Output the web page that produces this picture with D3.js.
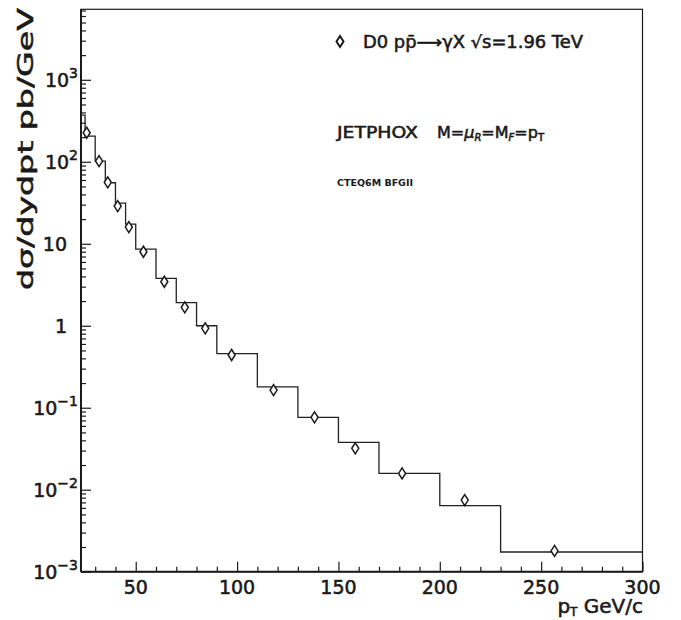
<!DOCTYPE html>
<html>
<head>
<meta charset="utf-8">
<script src="https://cdn.jsdelivr.net/npm/d3@7"></script>
<style>
  html, body { margin: 0; padding: 0; background: #fff; }
  svg { display: block; }
  text { font-family: "DejaVu Sans", sans-serif; fill: #1a1a1a; }
  .heavy { stroke: #1a1a1a; stroke-width: 0.55; }
</style>
</head>
<body>
<svg id="chart" width="681" height="620"></svg>
<script>
// ---- data ----
// JETPHOX theory histogram: bin edges and values (pb/GeV)
const binEdges = [23, 25, 30, 35, 40, 45, 50, 60, 70, 80, 90, 110, 130, 150, 170, 200, 230, 300];
const binValues = [370, 206, 102, 55.5, 31.3, 17.4, 8.6, 3.78, 1.91, 1.0, 0.456, 0.180, 0.0764, 0.0379, 0.0158, 0.00638, 0.00174];
// D0 data points
const dataPt = [25.8, 31.9, 36.2, 41.1, 46.6, 53.8, 64.1, 74.2, 84.3, 97.3, 118.0, 138.2, 158.3, 181.4, 212.3, 256.6];
const dataXs = [226, 102, 56.1, 28.8, 16.0, 7.99, 3.44, 1.68, 0.929, 0.440, 0.164, 0.0764, 0.0320, 0.0158, 0.00748, 0.00179];
// axis ticks
const xMajorTicks = [50, 100, 150, 200, 250, 300];
const xTickLabels = ["50", "100", "150", "200", "250", "300"];
const yMajorTicks = [1e-3, 1e-2, 1e-1, 1, 10, 1e2, 1e3];
const yTickLabels = ["10^-3", "10^-2", "10^-1", "1", "10", "10^2", "10^3"];

// ---- layout ----
const svg = d3.select("#chart");
const L = 81, R = 642.5, T = 9.3, B = 571.7;
const x = d3.scaleLinear().domain([23, 300]).range([L, R]);
const y = d3.scaleLog().domain([1e-3, Math.pow(10, 3.86)]).range([B, T]);
const ink = "#1a1a1a";

// frame
svg.append("rect").attr("x", L).attr("y", T).attr("width", R - L).attr("height", B - T)
  .attr("fill", "none").attr("stroke", ink).attr("stroke-width", 1.2);

// minor ticks
const xMinor = d3.range(30, 300, 10).filter(v => v % 50 !== 0);
const yMinor = [];
for (let e = -3; e <= 3; e++) for (let m = 2; m <= 9; m++) { const v = m * Math.pow(10, e); if (v <= y.domain()[1]) yMinor.push(v); }

const gx = svg.append("g").attr("transform", `translate(0,${B})`);
gx.call(d3.axisTop(x).tickValues(xMajorTicks).tickSize(10).tickFormat(""));
gx.append("g").call(d3.axisTop(x).tickValues(xMinor).tickSize(5).tickFormat(""));
gx.selectAll(".domain").remove();

const gy = svg.append("g").attr("transform", `translate(${L},0)`);
gy.call(d3.axisRight(y).tickValues(yMajorTicks).tickSize(10).tickFormat(""));
gy.append("g").call(d3.axisRight(y).tickValues(yMinor).tickSize(5).tickFormat(""));
gy.selectAll(".domain").remove();
svg.selectAll(".tick line").attr("stroke", ink).attr("stroke-width", 1.2);

// thick left / bottom axis lines
svg.append("line").attr("x1", L).attr("x2", L).attr("y1", T).attr("y2", B).attr("stroke", ink).attr("stroke-width", 2);
svg.append("line").attr("x1", L).attr("x2", R).attr("y1", B).attr("y2", B).attr("stroke", ink).attr("stroke-width", 2);

// x tick labels
svg.append("g").selectAll("text").data(xMajorTicks).join("text")
  .attr("class", "heavy")
  .attr("x", d => x(d)).attr("y", 594).attr("text-anchor", "middle")
  .attr("font-size", 19).text((d, i) => xTickLabels[i]);

// y tick labels
yMajorTicks.forEach((v, i) => {
  const lab = yTickLabels[i];
  const parts = lab.split("^");
  const t = svg.append("text").attr("class", "heavy").attr("y", y(v) + 7).attr("font-size", 19).attr("text-anchor", "end");
  if (parts.length === 2) {
    t.attr("x", 78);
    t.append("tspan").text(parts[0]);
    t.append("tspan").attr("font-size", 14).attr("dy", -9).text(parts[1].replace("-", "\u2212"));
  } else {
    t.attr("x", 67).text(lab);
  }
});

// axis titles
const xt = svg.append("text").attr("class", "heavy").attr("x", 643).attr("y", 613).attr("text-anchor", "end").attr("font-size", 20);
xt.append("tspan").text("p");
xt.append("tspan").attr("font-size", 12).attr("dy", 3).text("T");
xt.append("tspan").attr("dy", -3).text(" GeV/c");

svg.append("text").attr("class", "heavy").attr("transform", "translate(33,8) rotate(-90)")
  .attr("text-anchor", "end").attr("font-size", 21)
  .attr("textLength", 282).attr("lengthAdjust", "spacingAndGlyphs")
  .text("d\u03c3/dydpt pb/GeV");

// histogram
const histPts = [];
binValues.forEach((v, i) => { histPts.push([binEdges[i], v]); histPts.push([binEdges[i + 1], v]); });
const line = d3.line().x(d => x(d[0])).y(d => y(d[1]));
svg.append("path").attr("d", line(histPts)).attr("fill", "none").attr("stroke", "#222").attr("stroke-width", 1.3);

// diamonds
const diamond = (w, h) => `M0,${-h / 2}L${w / 2},0L0,${h / 2}L${-w / 2},0Z`;
svg.append("g").selectAll("path").data(dataPt).join("path")
  .attr("transform", (d, i) => `translate(${x(d)},${y(dataXs[i])})`)
  .attr("d", diamond(7, 11)).attr("fill", "#fff").attr("stroke", ink).attr("stroke-width", 1.5);

// legend
svg.append("path").attr("transform", "translate(340,41.5)").attr("d", diamond(7, 11))
  .attr("fill", "#fff").attr("stroke", ink).attr("stroke-width", 2);
const lg = svg.append("text").attr("class", "heavy").attr("x", 363).attr("y", 48).attr("font-size", 17)
  .attr("textLength", 220).attr("lengthAdjust", "spacingAndGlyphs");
lg.text("D0 pp\u0304\u27f6\u03b3X \u221as=1.96 TeV");

// JETPHOX label
const jp = svg.append("text").attr("class", "heavy").attr("x", 337).attr("y", 138).attr("font-size", 16);
jp.append("tspan").attr("textLength", 81).attr("lengthAdjust", "spacingAndGlyphs").text("JETPHOX");
jp.append("tspan").attr("x", 437).text("M=");
jp.append("tspan").attr("font-style", "italic").text("\u03bc");
jp.append("tspan").attr("font-size", 10).attr("dy", 3).attr("font-style", "italic").text("R");
jp.append("tspan").attr("dy", -3).text("=M");
jp.append("tspan").attr("font-size", 10).attr("dy", 3).attr("font-style", "italic").text("F");
jp.append("tspan").attr("dy", -3).text("=p");
jp.append("tspan").attr("font-size", 10).attr("dy", 3).text("T");

svg.append("text").attr("x", 337).attr("y", 186).attr("font-size", 8).attr("font-weight", "bold")
  .attr("textLength", 76).attr("lengthAdjust", "spacingAndGlyphs").text("CTEQ6M  BFGII");
</script>
</body>
</html>
